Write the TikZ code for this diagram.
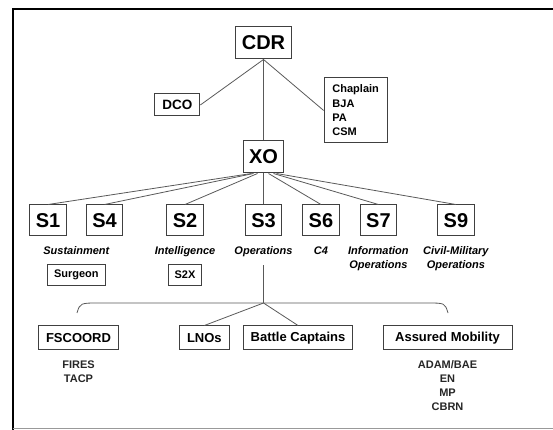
\documentclass[tikz,border=0pt]{standalone}
\usepackage{fontspec}
\setmainfont{Liberation Sans}
\usetikzlibrary{positioning,calc}
\tikzset{
	box/.style={
		rectangle, draw=black!75, line width=1pt, fill=white, inner ysep=0pt
	},
	%
	rankbox/.style={
		box, inner xsep=6pt, minimum height=32pt,
		font=\fontsize{20}{24}\selectfont\bfseries
	},
	%
	staffbox/.style={
		box, inner xsep=6pt, minimum height=31pt,
		font=\fontsize{20}{24}\selectfont\bfseries
	},
	%
	smallbox/.style={
		box, inner xsep=6.5pt, minimum height=21pt,
		font=\fontsize{11}{13}\selectfont\bfseries
	},
	%
	cellbox/.style={
		box, inner xsep=7.5pt, minimum height=24pt,
		font=\fontsize{13}{15}\selectfont\bfseries
	},
	%
	role/.style={
		inner sep=0pt, align=center,
		font=\fontsize{11}{13.5}\selectfont\bfseries\itshape
	},
	%
	list/.style={
		inner sep=0pt, align=center, text=black!85,
		font=\fontsize{11}{14}\selectfont\bfseries
	},
	%
	link/.style={
		draw=black!65, line width=0.8pt
	}
}

\begin{document}
\begin{tikzpicture}[x=1pt, y=1pt]
\useasboundingbox (0,0) rectangle (553,430);
% frame
\draw[line width=2pt] (12.5,0) -- (12.5,421) -- (553,421);
\draw[black!40, line width=0.6pt] (12.5,2) -- (553,2);

% command group
\node(cdr)[rankbox] at (263.5,387) {CDR};
\node(xo)[rankbox, below=81pt of cdr] {XO};
\node(dco)[cellbox, minimum height=22pt, font=\fontsize{13.5}{15}\selectfont\bfseries,
    below left=34pt and 35pt of cdr] {DCO};
\node(spec)[box, inner xsep=7.5pt, minimum width=63pt, minimum height=65pt, align=left,
    font=\fontsize{11}{14.3}\selectfont\bfseries,
    below right=18pt and 32pt of cdr] {Chaplain\\BJA\\PA\\CSM};
\draw[link] (cdr.south) -- (dco.east);
\draw[link] (cdr.south) -- (spec.west);
\draw[link] (cdr) -- (xo);

% staff sections
\node(s3)[staffbox, below=31pt of xo] {S3};
\node(s2)[staffbox, left=41pt of s3] {S2};
\node(s4)[staffbox, left=43pt of s2] {S4};
\node(s1)[staffbox, left=19pt of s4] {S1};
\node(s6)[staffbox, right=20pt of s3] {S6};
\node(s7)[staffbox, right=20pt of s6] {S7};
\node(s9)[staffbox, right=40pt of s7] {S9};
\draw[link] ([xshift=-12pt]xo.south) -- (s1.north);
\draw[link] ([xshift=-10pt]xo.south) -- (s4.north);
\draw[link] ([xshift=-6pt]xo.south) -- (s2.north);
\draw[link] (xo.south) -- (s3.north);
\draw[link] ([xshift=5pt]xo.south) -- (s6.north);
\draw[link] ([xshift=10pt]xo.south) -- (s7.north);
\draw[link] ([xshift=13pt]xo.south) -- (s9.north);

\coordinate (s14) at ($(s1.south)!0.5!(s4.south)$);
\node(sust)[role, below=10pt of s14] {Sustainment};
\node(intel)[role, below=10pt of s2] {Intelligence};
\node(ops)[role, below=10pt of s3] {Operations};
\node(comms)[role, below=10pt of s6] {C4};
\node(info)[role, below=10pt of s7] {Information\\Operations};
\node(civ)[role, below=10pt of s9] {Civil-Military\\Operations};

\node(surgeon)[smallbox, below=9pt of sust] {Surgeon};
\node(s2x)[smallbox, below=7pt of intel] {S2X};

% operations cells
\coordinate (brk) at (263.5,127);
\coordinate (brkL) at (77,117);
\coordinate (brkR) at (448,117);
\draw[link, shorten <=8pt] (ops.south) -- (brk);
\draw[link] (brkL) .. controls (80,127) .. (100,127) -- (427,127) .. controls (445,127) .. (brkR);

\node(fscoord)[cellbox] at (78.5,92) {FSCOORD};
\node(battle)[cellbox] at (298,92) {Battle Captains};
\node(lnos)[cellbox, left=13pt of battle] {LNOs};
\node(mob)[cellbox, minimum width=129pt] at (447.5,92) {Assured Mobility};
\draw[link] (brk) -- (lnos.north);
\draw[link] (brk) -- (battle.north);

\node(fires)[list, below=10pt of fscoord] {FIRES\\TACP};
\node(mobunits)[list, below=10pt of mob] {ADAM/BAE\\EN\\MP\\CBRN};
\end{tikzpicture}
\end{document}
